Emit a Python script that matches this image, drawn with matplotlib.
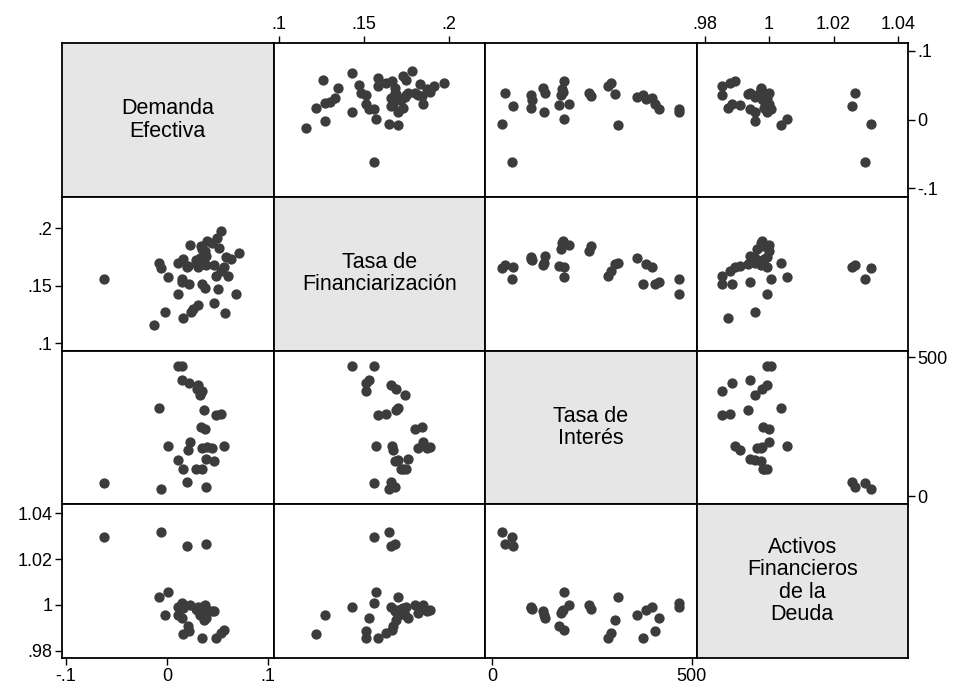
import numpy as np
import matplotlib.pyplot as plt

plt.rcParams['font.family'] = ['Liberation Sans', 'DejaVu Sans']

nan = np.nan

var_names = ['Demanda\nEfectiva', 'Tasa de\nFinanciarización',
             'Tasa de\nInterés', 'Activos\nFinancieros\nde la\nDeuda']

# observaciones (NaN = dato faltante)
demanda = [-.006, .039, -.062, .020, .035, .029, .016, .046, .039, .011,
           .021, .035, .045, .001, .056, .023, .040, .038, .034, .048,
           .053, .037, -.008, .033, .035, .030, .031, .022, .015, .015,
           .011,
           -.002, .016,
           .053, .051, .071, .058, .063, .060, .038, .050, .068, .046,
           .031, .026, .024, .057, -.013, .049]
tasa_fin = [.165, .168, .156, .166, .175, .172, .173, .168, .176, .170,
            .167, .182, .187, .157, .1665, .185, .189, .180, .184, .158,
            .163, .169, .170, .174, .151, .169, .166, .151, .153, .156,
            .143,
            .127, .122,
            .197, .183, .178, .175, .173, .158, .148, .147, .143, .135,
            .133, .130, .127, .126, .116, .191]
interes = [26, 32, 49, 53, 97, 100, 98, 128, 133, 131,
           167, 173, 175, 180, 180, 194, 178, 242, 249, 291,
           297, 309, 317, 364, 379, 387, 400, 409, 419, 469,
           469,
           nan, nan,
           nan, nan, nan, nan, nan, nan, nan, nan, nan, nan,
           nan, nan, nan, nan, nan, nan]
activos = [1.0317, 1.0266, 1.0298, 1.0258, .9993, .9982, .9985, .9974, .9942, .9955,
           .9910, .9963, .9974, 1.0056, .9893, 1.0000, .9978, 1.0000, .9982, .9854,
           .9880, .9934, 1.0036, .9956, .9854, .9978, .9993, .9886, .9942, 1.0007,
           .9993,
           .9956, .9874,
           nan, nan, nan, nan, nan, nan, nan, nan, nan, nan,
           nan, nan, nan, nan, nan, nan]

tick_vals = [[-.1, 0, .1], [.1, .15, .2], [0, 500], [.98, 1, 1.02, 1.04]]
tick_labels = [['-.1', '0', '.1'], ['.1', '.15', '.2'], ['0', '500'],
               ['.98', '1', '1.02', '1.04']]

data = [np.array(demanda), np.array(tasa_fin), np.array(interes, dtype=float),
        np.array(activos)]

xlims = [(-.104, .1054), (.0968, .2212), (-17.4, 512.4), (.9775, 1.0431)]
ylims = [(-.112, .111), (.0935, .2272), (-28.6, 525), (.9769, 1.0439)]

W, H = 955, 689
fig = plt.figure(figsize=(W / 100, H / 100), dpi=100)
gx0, gx1, gy0, gy1 = 62, 908, 43, 658
cw = (gx1 - gx0) / 4
rh = (gy1 - gy0) / 4
col = '#3c3c3c'

for i in range(4):
    for j in range(4):
        ax = fig.add_axes([(gx0 + j * cw) / W, 1 - (gy0 + (i + 1) * rh) / H,
                           cw / W, rh / H])
        ax.set_xlim(xlims[j])
        ax.set_ylim(ylims[i])
        ax.set_xticks([])
        ax.set_yticks([])
        for sp in ax.spines.values():
            sp.set_linewidth(1.3)
        if i == j:
            ax.set_facecolor('#e6e6e6')
            ax.text(0.5, 0.5, var_names[i], transform=ax.transAxes,
                    ha='center', va='center', fontsize=15.5, linespacing=1.08)
        else:
            x, y = data[j], data[i]
            ok = np.isfinite(x) & np.isfinite(y)
            ax.scatter(x[ok], y[ok], s=55, color=col, linewidths=0,
                       clip_on=False, zorder=3)
        kw = dict(direction='out', length=5, width=1, labelsize=13, pad=2)
        if i == 3 and j in (0, 2):
            ax.set_xticks(tick_vals[j], tick_labels[j])
            ax.tick_params(axis='x', **kw)
        if i == 0 and j in (1, 3):
            ax.xaxis.set_ticks_position('top')
            ax.set_xticks(tick_vals[j], tick_labels[j])
            ax.tick_params(axis='x', **kw)
        if j == 0 and i in (1, 3):
            ax.set_yticks(tick_vals[i], tick_labels[i])
            ax.tick_params(axis='y', **kw)
        if j == 3 and i in (0, 2):
            ax.yaxis.set_ticks_position('right')
            ax.set_yticks(tick_vals[i], tick_labels[i])
            ax.tick_params(axis='y', **kw)

fig.savefig('out.png', dpi=100)
